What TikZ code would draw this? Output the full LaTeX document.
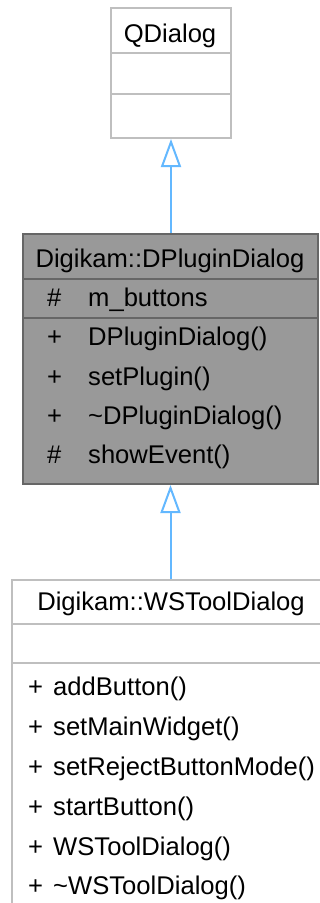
\documentclass[tikz,border=0pt]{standalone}
\usepackage{fontspec}
\setmainfont{Liberation Sans}
\usetikzlibrary{arrows.meta}
\definecolor{lightborder}{HTML}{BFBFBF}
\definecolor{darkborder}{HTML}{666666}
\definecolor{darkfill}{HTML}{999999}
\definecolor{inhblue}{HTML}{63B8FF}
\begin{document}
\begin{tikzpicture}[x=1pt,y=-1pt,
  lightbox/.style={draw=lightborder, line width=2pt, fill=white, rectangle, inner sep=0pt},
  darkbox/.style={draw=darkborder, line width=2pt, fill=darkfill, rectangle, inner sep=0pt},
  lightline/.style={draw=lightborder, line width=2pt},
  darkline/.style={draw=darkborder, line width=2pt},
  txt/.style={inner sep=0pt, font=\fontsize{25.6}{30}\selectfont, text=black},
  inh/.style={draw=inhblue, line width=2pt, -{Triangle[fill=white, length=28pt, width=20pt, line width=2pt]}}
]
\clip (0,0) rectangle (320,903);
\fill[white] (0,0) rectangle (320,903);

% QDialog
\node[lightbox, minimum width=120pt, minimum height=130pt, anchor=north west] (qd) at (110,7) {};
\draw[lightline] (110,53) -- (230,53);
\draw[lightline] (110,94) -- (230,94);
\node[txt, anchor=base] (qdt) at (170,42) {QDialog};

% DPluginDialog
\node[darkbox, minimum width=295pt, minimum height=250pt, anchor=north west] (dp) at (22,233) {};
\draw[darkline] (22,279) -- (317,279);
\draw[darkline] (22,318) -- (317,318);
\node[txt, anchor=base] (dpt) at (170,267) {Digikam::DPluginDialog};
\node[txt, anchor=base west] (dpv1) at (47,306) {\#};
\node[txt, anchor=base west] (dpa1) at (88,306) {m\_buttons};
\node[txt, anchor=base west] (dpv2) at (47,345) {+};
\node[txt, anchor=base west] (dpm1) at (88,345) {DPluginDialog()};
\node[txt, anchor=base west] (dpv3) at (47,385) {+};
\node[txt, anchor=base west] (dpm2) at (88,385) {setPlugin()};
\node[txt, anchor=base west] (dpv4) at (47,424) {+};
\node[txt, anchor=base west] (dpm3) at (88,424) {\char`\~DPluginDialog()};
\node[txt, anchor=base west] (dpv5) at (47,463) {\#};
\node[txt, anchor=base west] (dpm4) at (88,463) {showEvent()};

% WSToolDialog
\node[lightbox, minimum width=318pt, minimum height=340pt, anchor=north west] (ws) at (11,579) {};
\draw[lightline] (11,624) -- (329,624);
\draw[lightline] (11,663) -- (329,663);
\node[txt, anchor=base] (wst) at (171,610) {Digikam::WSToolDialog};
\node[txt, anchor=base west] (wsv1) at (28,695) {+};
\node[txt, anchor=base west] (wsm1) at (53,695) {addButton()};
\node[txt, anchor=base west] (wsv2) at (28,735) {+};
\node[txt, anchor=base west] (wsm2) at (53,735) {setMainWidget()};
\node[txt, anchor=base west] (wsv3) at (28,775) {+};
\node[txt, anchor=base west] (wsm3) at (53,775) {setRejectButtonMode()};
\node[txt, anchor=base west] (wsv4) at (28,815) {+};
\node[txt, anchor=base west] (wsm4) at (53,815) {startButton()};
\node[txt, anchor=base west] (wsv5) at (28,855) {+};
\node[txt, anchor=base west] (wsm5) at (53,855) {WSToolDialog()};
\node[txt, anchor=base west] (wsv6) at (28,894) {+};
\node[txt, anchor=base west] (wsm6) at (53,894) {\char`\~WSToolDialog()};

% inheritance
\draw[inh] (dp.north -| qd.south) -- (qd.south);
\draw[inh] (ws.north -| dp.south) -- (dp.south);
\end{tikzpicture}
\end{document}
